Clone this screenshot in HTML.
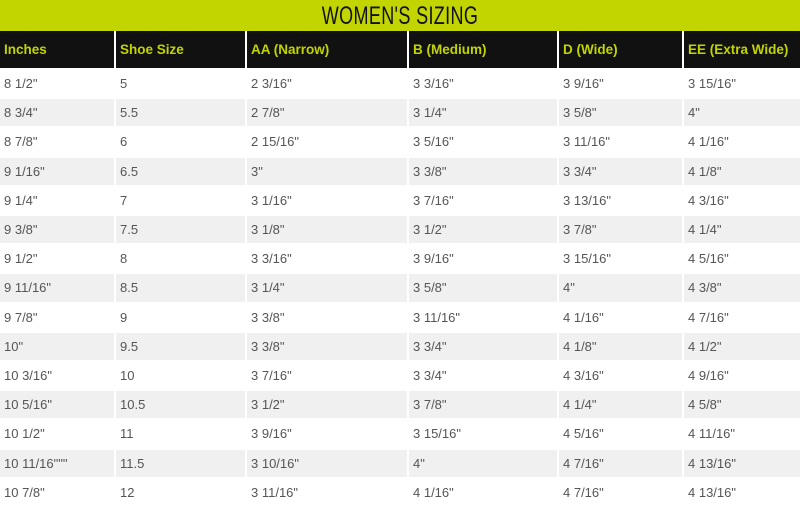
<!DOCTYPE html>
<html><head><meta charset="utf-8">
<style>
body{margin:0;width:800px;height:506px;overflow:hidden;background:#fff;font-family:"Liberation Sans",sans-serif;}
#title{position:absolute;left:0;top:0;width:800px;height:31px;background:#c2d500;}
#title span{position:absolute;left:400px;top:2px;font-size:25px;line-height:28px;color:#111;transform:translateX(-50%) scaleX(0.72);white-space:nowrap;letter-spacing:0.5px;}
.cell{position:absolute;box-sizing:border-box;padding-left:4px;font-size:13px;color:#555;white-space:nowrap;}
.hd{background:#111;color:#c2d500;font-weight:bold;font-size:13.5px;}
.gray{background:#f0f0f0;}
</style></head>
<body>
<div id="title"><span>WOMEN'S SIZING</span></div>
<div id="tbl"></div>
<script>
const headers=["Inches","Shoe Size","AA (Narrow)","B (Medium)","D (Wide)","EE (Extra Wide)"];
const inches=["8 1/2\"","8 3/4\"","8 7/8\"","9 1/16\"","9 1/4\"","9 3/8\"","9 1/2\"","9 11/16\"","9 7/8\"","10\"","10 3/16\"","10 5/16\"","10 1/2\"","10 11/16\"\"\"","10 7/8\""];
const shoeSize=["5","5.5","6","6.5","7","7.5","8","8.5","9","9.5","10","10.5","11","11.5","12"];
const narrow=["2 3/16\"","2 7/8\"","2 15/16\"","3\"","3 1/16\"","3 1/8\"","3 3/16\"","3 1/4\"","3 3/8\"","3 3/8\"","3 7/16\"","3 1/2\"","3 9/16\"","3 10/16\"","3 11/16\""];
const medium=["3 3/16\"","3 1/4\"","3 5/16\"","3 3/8\"","3 7/16\"","3 1/2\"","3 9/16\"","3 5/8\"","3 11/16\"","3 3/4\"","3 3/4\"","3 7/8\"","3 15/16\"","4\"","4 1/16\""];
const wide=["3 9/16\"","3 5/8\"","3 11/16\"","3 3/4\"","3 13/16\"","3 7/8\"","3 15/16\"","4\"","4 1/16\"","4 1/8\"","4 3/16\"","4 1/4\"","4 5/16\"","4 7/16\"","4 7/16\""];
const extraWide=["3 15/16\"","4\"","4 1/16\"","4 1/8\"","4 3/16\"","4 1/4\"","4 5/16\"","4 3/8\"","4 7/16\"","4 1/2\"","4 9/16\"","4 5/8\"","4 11/16\"","4 13/16\"","4 13/16\""];
const cols=[inches,shoeSize,narrow,medium,wide,extraWide];
const colX=[0,116,247,409,559,684,800];
const tbl=document.getElementById('tbl');
for(let c=0;c<6;c++){
  const h=document.createElement('div');
  h.className='cell hd';
  
  
  h.style.left=colX[c]+'px';h.style.top='31px';
  h.style.width=(colX[c+1]-colX[c]-(c<5?2:0))+'px';h.style.height='37px';h.style.lineHeight='37px';
  h.textContent=headers[c];tbl.appendChild(h);
}
for(let r=0;r<inches.length;r++){
  const top=70+29.2*r;
  for(let c=0;c<6;c++){
    const d=document.createElement('div');
    d.className='cell'+(r%2?' gray':'');
    
    
    d.style.left=colX[c]+'px';d.style.top=top+'px';
    d.style.width=(colX[c+1]-colX[c]-(c<5?2:0))+'px';d.style.height='27.2px';d.style.lineHeight='27.2px';
    d.textContent=cols[c][r];tbl.appendChild(d);
  }
}
</script>
</body></html>
